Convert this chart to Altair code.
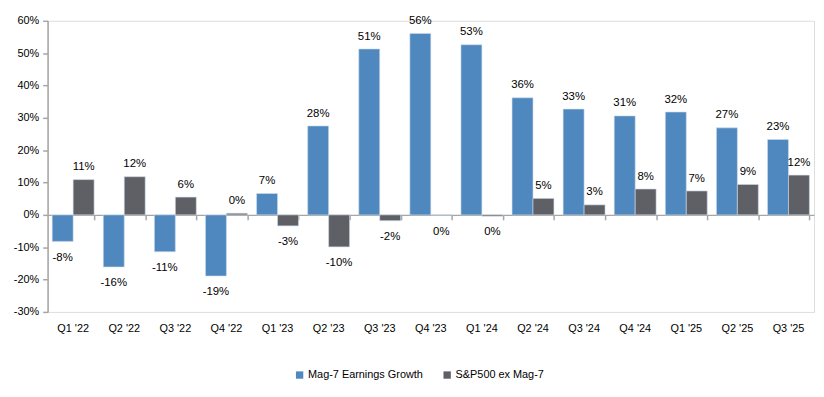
import altair as alt
import pandas as pd

quarters = ["Q1 '22", "Q2 '22", "Q3 '22", "Q4 '22", "Q1 '23", "Q2 '23", "Q3 '23", "Q4 '23",
            "Q1 '24", "Q2 '24", "Q3 '24", "Q4 '24", "Q1 '25", "Q2 '25", "Q3 '25"]
mag7 = [-8.2, -16.1, -11.4, -18.9, 6.6, 27.5, 51.3, 56.1, 52.6, 36.2, 32.7, 30.6, 31.8, 26.9, 23.3]
sp_ex = [10.9, 11.8, 5.5, 0.5, -3.4, -9.9, -1.8, -0.1, -0.4, 5.1, 3.1, 8.0, 7.4, 9.4, 12.3]
series = ["Mag-7 Earnings Growth", "S&P500 ex Mag-7"]
colors = ["#4F88BE", "#5F6065"]

rows = []
for q, a, b in zip(quarters, mag7, sp_ex):
    for s, v in zip(series, [a, b]):
        rows.append({"quarter": q, "series": s, "value": v, "label": f"{int(round(v))}%"})
df = pd.DataFrame(rows)

FONT = "Liberation Sans"
FS = 11
W, H = 774, 294

x_enc = alt.X("quarter:N", sort=quarters,
              scale=alt.Scale(paddingInner=0.18, paddingOuter=0.09),
              axis=alt.Axis(title=None, orient="bottom", labelAngle=0, domain=False, ticks=False,
                            labelPadding=11, labelFont=FONT, labelFontSize=FS,
                            labelColor="#000000"))
xoff = alt.XOffset("series:N", sort=series, scale=alt.Scale(paddingInner=0, paddingOuter=0))
y_enc = alt.Y("value:Q", scale=alt.Scale(domain=[-30, 60], nice=False),
              axis=alt.Axis(title=None, values=list(range(-30, 61, 10)),
                            labelExpr="datum.value + '%'", grid=False, labelOverlap=False,
                            domainColor="#A6A6A6", domainWidth=1.5, tickColor="#A6A6A6",
                            tickSize=5, tickWidth=1.5, labelFont=FONT, labelFontSize=FS,
                            labelColor="#000000", labelPadding=4))

base = alt.Chart(df)

bars = base.mark_bar(stroke="#D0DCEA", strokeWidth=0.6).encode(
    x=x_enc, xOffset=xoff, y=y_enc,
    color=alt.Color("series:N", sort=series,
                    scale=alt.Scale(domain=series, range=colors),
                    legend=alt.Legend(title=None, orient="none", direction="horizontal",
                                      legendX=249, legendY=352, symbolType="square",
                                      symbolSize=55, symbolStrokeWidth=0,
                                      labelFont=FONT, labelFontSize=FS,
                                      labelColor="#000000", columnPadding=18,
                                      labelOffset=3)),
)

pos_text = base.transform_filter("datum.value >= 0").mark_text(
    baseline="alphabetic", dy=-9.5, font=FONT, fontSize=FS + 0.5, color="#000000"
).encode(x=alt.X("quarter:N", sort=quarters), xOffset=xoff, y=y_enc, text="label:N")

neg_text = base.transform_filter("datum.value < 0").mark_text(
    baseline="alphabetic", dy=19.5, font=FONT, fontSize=FS + 0.5, color="#000000"
).encode(x=alt.X("quarter:N", sort=quarters), xOffset=xoff, y=y_enc, text="label:N")

main = alt.layer(bars, pos_text, neg_text)

zero_axis = base.mark_point(opacity=0).encode(
    x=alt.X("quarter:N", sort=quarters,
            axis=alt.Axis(title=None, orient="bottom", offset=-98, labels=False,
                          domain=True, domainColor="#A6A6A6", domainWidth=1.5,
                          ticks=True, tickBand="extent", tickSize=5, tickWidth=1.5,
                          tickColor="#A6A6A6")),
    y=y_enc,
)

chart = alt.layer(zero_axis, main).resolve_axis(x="independent").properties(
    width=W, height=H,
    autosize=alt.AutoSizeParams(type="none"),
    padding={"left": 40, "top": 11, "right": 2, "bottom": 84},
).configure_view(stroke=None).configure(background="#FFFFFF")

chart.save("out.html", embed_options={"renderer": "svg", "actions": False})
